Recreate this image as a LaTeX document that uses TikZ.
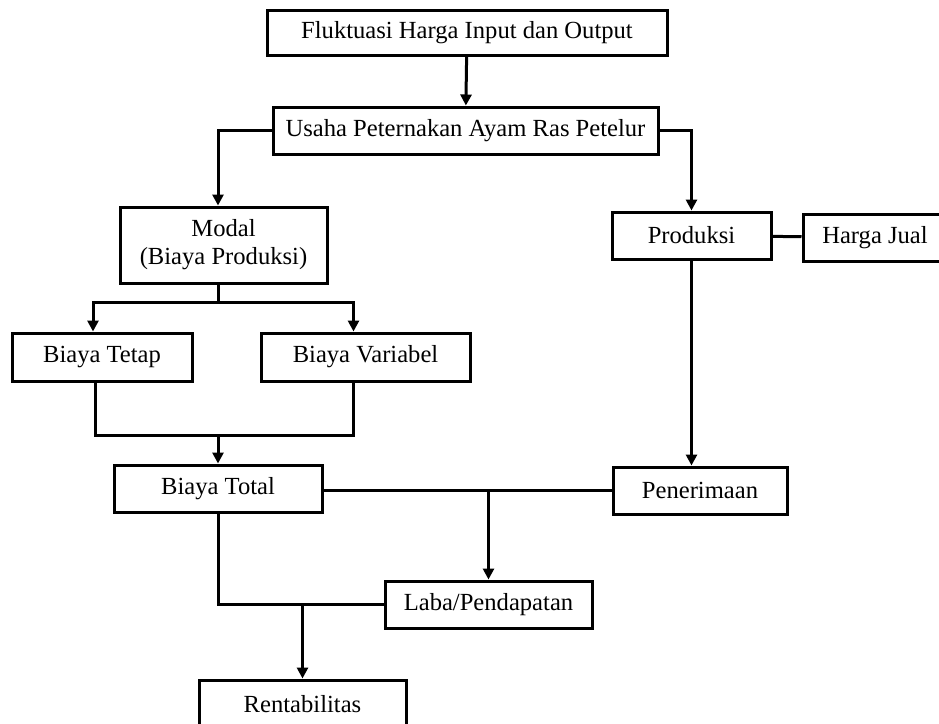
\documentclass[tikz,border=0pt]{standalone}
\usepackage{fontspec}
\setmainfont{Liberation Serif}
\usetikzlibrary{arrows.meta}

\tikzset{kotak/.style={draw,line width=1.5pt,inner sep=0pt,align=center,font=\fontsize{12.3}{14}\selectfont},
         panah/.style={line width=1.5pt,-{Triangle[length=5.5pt,width=5.5pt]}},
         garis/.style={line width=1.5pt}}

\begin{document}
\begin{tikzpicture}[x=0.5pt,y=-0.5pt]
        \useasboundingbox (0,0) rectangle (939,724);
        \node[kotak,minimum width=200pt,minimum height=22.5pt] (fluktuasi) at (467,32.5) {Fluktuasi Harga Input dan Output};
        \node[kotak,minimum width=192.5pt,minimum height=23.5pt] (usaha) at (465.5,130.5) {Usaha Peternakan Ayam Ras Petelur};
        \node[kotak,minimum width=103.5pt,minimum height=38pt] (modal) at (223.5,245) {Modal\\(Biaya Produksi)};
        \node[kotak,minimum width=79.5pt,minimum height=23.5pt] (produksi) at (691.5,235.5) {Produksi};
        \node[kotak,minimum width=72pt,minimum height=23.5pt] (hargajual) at (875,237.5) {Harga Jual};
        \node[kotak,minimum width=90pt,minimum height=24pt] (tetap) at (102,357) {Biaya Tetap};
        \node[kotak,minimum width=104.5pt,minimum height=24pt] (variabel) at (365.5,357) {Biaya Variabel};
        \node[kotak,minimum width=104pt,minimum height=23.5pt] (total) at (218,488.5) {Biaya Total};
        \node[kotak,minimum width=87pt,minimum height=23.5pt] (penerimaan) at (700,490.5) {Penerimaan};
        \node[kotak,minimum width=103.5pt,minimum height=23.5pt] (laba) at (488.5,604.5) {Laba/Pendapatan};
        \node[kotak,minimum width=103.5pt,minimum height=24pt] (rentabilitas) at (302.5,704) {Rentabilitas};

        \draw[panah] (fluktuasi) -- (usaha);
        \draw[panah] (usaha.west) -| ([xshift=-2.75pt]modal.north);
        \draw[panah] (usaha.east) -| (produksi.north);
        \draw[garis] (produksi) -- (hargajual);
        % cabang biaya
        \draw[garis] ([xshift=-2.75pt]modal.south) -- ++(0,18) coordinate (m1);
        \draw[panah] (m1) -| ([xshift=-4.5pt]tetap.north);
        \draw[panah] (m1) -| ([xshift=-6pt]variabel.north);
        \draw[garis] ([xshift=-3.5pt]tetap.south) |- (218,435) coordinate (m2) -| ([xshift=-6pt]variabel.south);
        \draw[panah] (m2) -- (total.north);
        % penerimaan
        \draw[panah] (produksi.south) -- (produksi.south |- penerimaan.north);
        \draw[garis] ([yshift=-0.75pt]total.east) -- ([yshift=-0.75pt]total.east -| penerimaan.west);
        \draw[panah] ([yshift=-0.75pt]total.east -| laba.north) -- (laba.north);
        \draw[garis] (total.south) |- (laba.west);
        \draw[panah] (rentabilitas.north |- laba.west) -- (rentabilitas.north);
\end{tikzpicture}
\end{document}
